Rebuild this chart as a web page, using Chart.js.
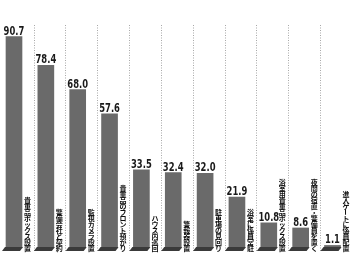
<!DOCTYPE html>
<html>
<head>
<meta charset="utf-8">
<script src="https://cdn.jsdelivr.net/npm/chart.js@4"></script>
<style>
  html, body { margin: 0; padding: 0; background: #fff; }
  #wrap { width: 354px; height: 260px; position: relative; }
</style>
</head>
<body>
<div id="wrap"><canvas id="chart"></canvas></div>
<script>
// categories and values (%)
const categories = [
    '貴重品ボックス設置',
    '警備会社と契約',
    '監視カメラ設置',
    '貴重品のフロント預かり',
    'ハウス内巡回',
    '警報器設置',
    '駐車場の見回り',
    '浴室に係員常駐',
    '浴室用貴重品ボックス設置',
    '夜間の宿直・警備員を置く',
    '進入ゲートに係員配置'
];
const values = [90.7, 78.4, 68.0, 57.6, 33.5, 32.4, 32.0, 21.9, 10.8, 8.6, 1.1];

const barColor = '#6a6a6a';

// dotted separators, bar bases, value labels and vertical captions
const decoPlugin = {
    id: 'deco',
    beforeDatasetsDraw(chart) {
        const ctx = chart.ctx;
        const x = chart.scales.x;
        ctx.save();
        ctx.strokeStyle = '#a8a8a8';
        ctx.lineWidth = 1;
        ctx.setLineDash([1, 1.5]);
        for (let i = 0; i < categories.length - 1; i++) {
            const px = Math.round(x.getPixelForValue(i) + 19.5) + 0.5;
            ctx.beginPath();
            ctx.moveTo(px, 25);
            ctx.lineTo(px, 251);
            ctx.stroke();
        }
        ctx.restore();
    },
    afterDatasetsDraw(chart) {
        const ctx = chart.ctx;
        const meta = chart.getDatasetMeta(0);
        ctx.save();
        meta.data.forEach((bar, i) => {
            const L = bar.x - bar.width / 2;
            const R = bar.x + bar.width / 2;
            const B = bar.base;

            // slanted base
            ctx.fillStyle = '#3a3a3a';
            ctx.beginPath();
            ctx.moveTo(L - 1, B - 1);
            ctx.lineTo(R + 1, B - 1);
            ctx.lineTo(R - 2, B + 3);
            ctx.lineTo(L - 4, B + 3);
            ctx.closePath();
            ctx.fill();

            // value label, condensed
            ctx.save();
            ctx.fillStyle = '#1a1a1a';
            ctx.font = 'bold 13px "Liberation Sans Narrow", "DejaVu Sans Condensed", sans-serif';
            ctx.textAlign = 'center';
            ctx.textBaseline = 'alphabetic';
            ctx.translate(bar.x, bar.y - 2);
            ctx.scale(0.72, 1);
            ctx.fillText(values[i].toFixed(1), 0, 0);
            ctx.restore();

            // vertical caption, bottom aligned
            const chars = Array.from(categories[i]);
            const step = 6;
            const cx = bar.x + 13.5;
            ctx.fillStyle = '#111';
            ctx.font = 'bold 7px "Noto Sans CJK JP", sans-serif';
            ctx.textAlign = 'center';
            ctx.textBaseline = 'middle';
            chars.forEach((ch, k) => {
                const cy = 251 - (chars.length - k - 0.5) * step;
                if (ch === 'ー') {
                    ctx.save();
                    ctx.translate(cx, cy);
                    ctx.rotate(Math.PI / 2);
                    ctx.fillText(ch, 0, 0);
                    ctx.restore();
                } else {
                    ctx.fillText(ch, cx, cy);
                }
            });
        });
        ctx.restore();
    }
};

new Chart(document.getElementById('chart'), {
    type: 'bar',
    data: {
        labels: categories,
        datasets: [{
            data: values,
            backgroundColor: barColor,
            borderWidth: 0,
            barThickness: 16,
            clip: false
        }]
    },
    options: {
        responsive: true,
        maintainAspectRatio: false,
        animation: false,
        layout: { padding: { left: 14, right: 21.5, top: 15, bottom: 12 } },
        plugins: {
            legend: { display: false },
            tooltip: { enabled: false }
        },
        scales: {
            x: { display: false, offset: false },
            y: { display: false, min: 0, max: 100 }
        }
    },
    plugins: [decoPlugin]
});
</script>
</body>
</html>
